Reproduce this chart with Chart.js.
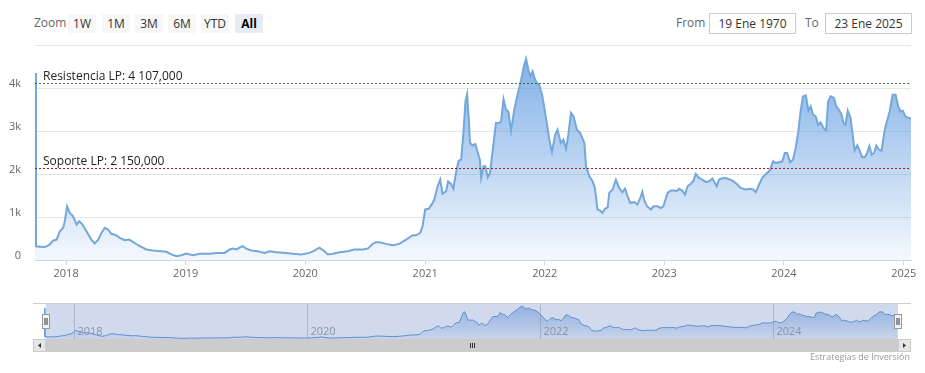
<!DOCTYPE html>
<html><head><meta charset="utf-8">
<script src="https://cdn.jsdelivr.net/npm/chart.js@4.4.1/dist/chart.umd.min.js"></script>
<style>
body{margin:0;background:#fff;font-family:"Open Sans",sans-serif;}
#wrap{position:relative;width:925px;height:373px;overflow:hidden;background:#fff;}
canvas{position:absolute;left:0;}
.t{position:absolute;font-size:12px;color:#666;line-height:18px;}
.btn{position:absolute;top:14px;height:19px;width:28px;background:#f7f7f7;color:#333;font-size:12px;line-height:19px;text-align:center;}
.sel{background:#e6ebf5;color:#000;font-weight:bold;}
.box{position:absolute;top:13px;height:19px;width:85px;border:1px solid #ccc;font-size:12px;line-height:19px;text-align:center;color:#333;}
.credit{position:absolute;right:15px;top:350px;font-size:9px;color:#999;}
</style></head>
<body>
<div id="wrap">
  <div class="t" style="left:34px;top:14px;">Zoom</div>
  <div class="btn" style="left:68px;">1W</div>
  <div class="btn" style="left:102px;">1M</div>
  <div class="btn" style="left:135px;">3M</div>
  <div class="btn" style="left:168px;">6M</div>
  <div class="btn" style="left:201px;">YTD</div>
  <div class="btn sel" style="left:235px;">All</div>
  <div class="t" style="left:676px;top:14px;">From</div>
  <div class="box" style="left:709px;">19 Ene 1970</div>
  <div class="t" style="left:805px;top:14px;">To</div>
  <div class="box" style="left:825px;">23 Ene 2025</div>
  <canvas id="main" width="925" height="290" style="top:0"></canvas>
  <canvas id="nav" width="925" height="83" style="top:290px"></canvas>
  <div class="credit">Estrategias de Inversión</div>
</div>
<script>
const dates = [
"2017-09-28","2017-10-01","2017-10-13","2017-10-28","2017-11-12","2017-11-22","2017-12-03","2017-12-13","2017-12-23","2017-12-28",
"2018-01-04","2018-01-12","2018-01-22","2018-02-02","2018-02-10","2018-02-20","2018-03-04","2018-03-19","2018-03-29","2018-04-09",
"2018-04-19","2018-04-29","2018-05-09","2018-05-19","2018-06-02","2018-06-14","2018-06-29","2018-07-12","2018-07-24","2018-08-14",
"2018-09-03","2018-09-23","2018-10-19","2018-11-03","2018-11-18","2018-12-04","2018-12-19","2019-01-03","2019-01-23","2019-02-13",
"2019-03-15","2019-04-05","2019-04-30","2019-05-15","2019-05-25","2019-06-05","2019-06-23","2019-07-05","2019-07-20","2019-08-09",
"2019-08-30","2019-09-14","2019-10-04","2019-11-04","2019-11-24","2019-12-20","2020-01-14","2020-01-29","2020-02-13","2020-02-26",
"2020-03-10","2020-03-25","2020-04-14","2020-05-10","2020-05-30","2020-06-25","2020-07-10","2020-07-25","2020-08-04","2020-08-14",
"2020-09-04","2020-09-24","2020-10-14","2020-11-04","2020-11-24","2020-12-04","2020-12-17","2020-12-24","2021-01-01","2021-01-12",
"2021-01-22","2021-01-29","2021-02-08","2021-02-16","2021-02-23","2021-03-06","2021-03-12","2021-03-21","2021-03-28","2021-04-05",
"2021-04-13","2021-04-21","2021-04-28","2021-05-04","2021-05-09","2021-05-14","2021-05-18","2021-05-26","2021-06-03","2021-06-11",
"2021-06-17","2021-06-21","2021-06-28","2021-07-04","2021-07-11","2021-07-18","2021-07-26","2021-08-05","2021-08-15","2021-08-21",
"2021-08-28","2021-09-05","2021-09-12","2021-09-20","2021-09-30","2021-10-10","2021-10-21","2021-10-28","2021-11-05","2021-11-12",
"2021-11-18","2021-11-25","2021-12-01","2021-12-08","2021-12-15","2021-12-24","2022-01-05","2022-01-15","2022-01-23","2022-02-02",
"2022-02-09","2022-02-19","2022-02-27","2022-03-07","2022-03-14","2022-03-22","2022-03-30","2022-04-09","2022-04-19","2022-05-02",
"2022-05-07","2022-05-17","2022-05-27","2022-06-03","2022-06-11","2022-06-19","2022-06-26","2022-07-04","2022-07-12","2022-07-17",
"2022-07-27","2022-08-06","2022-08-16","2022-08-26","2022-09-03","2022-09-11","2022-09-19","2022-10-01","2022-10-11","2022-10-19",
"2022-10-26","2022-10-31","2022-11-09","2022-11-21","2022-11-29","2022-12-11","2022-12-21","2022-12-29","2023-01-11","2023-01-21",
"2023-01-31","2023-02-08","2023-02-15","2023-02-25","2023-03-05","2023-03-13","2023-03-23","2023-03-31","2023-04-07","2023-04-17",
"2023-04-27","2023-05-08","2023-05-18","2023-05-28","2023-06-10","2023-06-17","2023-07-02","2023-07-12","2023-07-28","2023-08-12",
"2023-08-22","2023-09-06","2023-09-19","2023-09-29","2023-10-07","2023-10-15","2023-10-27","2023-11-07","2023-11-19","2023-11-29",
"2023-12-07","2023-12-17","2023-12-27","2024-01-04","2024-01-11","2024-01-20","2024-01-29","2024-02-06","2024-02-14","2024-02-21",
"2024-02-28","2024-03-08","2024-03-16","2024-03-23","2024-03-30","2024-04-07","2024-04-15","2024-04-22","2024-05-02","2024-05-09",
"2024-05-15","2024-05-23","2024-06-02","2024-06-09","2024-06-17","2024-06-25","2024-07-02","2024-07-07","2024-07-14","2024-07-22",
"2024-07-27","2024-08-04","2024-08-12","2024-08-19","2024-08-27","2024-09-04","2024-09-11","2024-09-18","2024-09-25","2024-10-02",
"2024-10-09","2024-10-17","2024-10-25","2024-11-04","2024-11-11","2024-11-19","2024-11-28","2024-12-07","2024-12-15","2024-12-22",
"2024-12-29","2025-01-06","2025-01-16","2025-01-23"
];
const values = [
4350,320,310,300,360,450,475,670,750,900,
1250,1095,1020,825,900,825,670,475,385,475,
630,750,710,610,580,515,460,475,420,320,
245,220,205,190,130,90,110,150,110,145,
145,165,165,245,265,245,320,265,220,205,
165,205,180,165,145,130,165,220,285,220,
130,145,180,205,245,245,265,375,415,415,
375,345,375,475,575,575,630,785,1175,1190,
1305,1405,1715,1870,1540,1600,1830,1770,1660,2025,
2310,2335,2990,3690,3860,3300,2720,2665,2700,2490,
2335,1910,2180,2180,1925,2025,2530,3185,3185,3225,
3745,3495,3455,3010,3495,3845,4195,4465,4680,4425,
4270,4385,4230,4115,4075,3845,3300,2800,2515,2915,
3030,2720,2800,2590,2915,3420,3340,3030,2955,2720,
2180,1945,1830,1675,1175,1150,1095,1190,1225,1560,
1640,1870,1675,1575,1660,1480,1330,1345,1290,1430,
1585,1405,1250,1175,1250,1250,1210,1250,1560,1615,
1615,1600,1655,1615,1520,1715,1770,1845,2000,1910,
1870,1815,1830,1895,1715,1870,1910,1895,1845,1755,
1675,1640,1655,1640,1575,1715,1910,2000,2080,2295,
2255,2275,2295,2490,2490,2275,2335,2605,2990,3455,
3805,3830,3470,3570,3380,3340,3145,3200,3055,3010,
3690,3805,3770,3570,3495,3380,3165,3145,3470,3320,
3030,2545,2665,2545,2390,2390,2490,2645,2450,2490,
2660,2565,2545,3030,3240,3455,3845,3845,3570,3455,
3470,3340,3300,3290
];
const yTicks = [0, 1000, 2000, 3000, 4000, 5000];
const yearTicks = [2018, 2019, 2020, 2021, 2022, 2023, 2024, 2025];
const navYearTicks = [2018, 2020, 2022, 2024];
const resistanceValue = 4107;
const resistanceLabel = "Resistencia LP: 4 107,000";
const supportValue = 2150;
const supportLabel = "Soporte LP: 2 150,000";

const toMs = s => { const p = s.split('-').map(Number); return Date.UTC(p[0], p[1]-1, p[2]); };
const points = dates.map((d, i) => ({x: toMs(d), y: values[i]}));
const xMin = toMs(dates[0]), xMax = toMs(dates[dates.length-1]);
const FONT = '"Open Sans", sans-serif';

function grad(ctx, top, bottom) {
  const ch = ctx.chart; const ca = ch.chartArea; if (!ca) return null;
  const g = ch.ctx.createLinearGradient(0, ca.top, 0, ca.bottom);
  g.addColorStop(0, top); g.addColorStop(1, bottom); return g;
}

const plotLines = {
  id: 'plotLines',
  afterDatasetsDraw(chart) {
    const {ctx, chartArea: ca, scales: {y}} = chart;
    const lines = [[resistanceValue, resistanceLabel, '#2e7d32'], [supportValue, supportLabel, '#b01c1c']];
    ctx.save();
    for (const [v, lab, col] of lines) {
      const py = Math.round(y.getPixelForValue(v)) + 0.5;
      ctx.strokeStyle = col; ctx.lineWidth = 1; ctx.setLineDash([2, 2]);
      ctx.beginPath(); ctx.moveTo(ca.left, py); ctx.lineTo(ca.right, py); ctx.stroke();
      ctx.setLineDash([]);
      ctx.fillStyle = '#222'; ctx.font = '12px ' + FONT; ctx.textBaseline = 'alphabetic'; ctx.textAlign = 'left';
      ctx.fillText(lab, ca.left + 8, py - 3.5);
    }
    ctx.restore();
  }
};

new Chart(document.getElementById('main'), {
  type: 'line',
  data: { datasets: [{
    data: points,
    borderColor: '#75a7db', borderWidth: 2, pointRadius: 0, tension: 0,
    fill: 'origin',
    backgroundColor: c => grad(c, 'rgba(70,140,220,0.72)', 'rgba(70,140,220,0.06)')
  }]},
  options: {
    responsive: false, animation: false, events: [],
    layout: { padding: { left: 0, right: 14, top: 45, bottom: 10 } },
    plugins: { legend: { display: false }, tooltip: { enabled: false } },
    scales: {
      x: {
        type: 'linear', min: xMin, max: xMax,
        afterBuildTicks: s => { s.ticks = yearTicks.map(yr => ({ value: Date.UTC(yr, 0, 1) })); },
        afterFit: s => { s.height = 20; },
        grid: { drawOnChartArea: false, drawTicks: true, tickLength: 5, color: '#ccd6eb' },
        border: { color: '#ccd6eb' },
        ticks: { autoSkip: false, maxRotation: 0, padding: 2, color: '#666', font: { size: 11, family: FONT },
                 callback: v => String(new Date(v).getUTCFullYear()) }
      },
      y: {
        min: 0, max: 5000,
        afterBuildTicks: s => { s.ticks = yTicks.map(v => ({ value: v })); },
        afterFit: s => { s.width = 35; },
        grid: { color: '#e6e6e6', drawTicks: false },
        border: { display: false },
        ticks: { padding: 14, labelOffset: -4, color: '#666', font: { size: 11, family: FONT },
                 callback: v => v === 0 ? '0' : (v === 5000 ? '' : (v / 1000) + 'k') }
      }
    }
  },
  plugins: [plotLines]
});

const navDecor = {
  id: 'navDecor',
  beforeDatasetsDraw(chart) {
    const {ctx, chartArea: ca} = chart;
    ctx.save();
    ctx.strokeStyle = '#cccccc'; ctx.lineWidth = 1;
    ctx.beginPath(); ctx.moveTo(33, ca.top + 0.5); ctx.lineTo(911, ca.top + 0.5); ctx.stroke();
    ctx.restore();
  },
  afterDatasetsDraw(chart) {
    const {ctx, chartArea: ca, scales: {x}} = chart;
    const L = 46, R = 898;
    ctx.save();
    ctx.fillStyle = 'rgba(102,133,194,0.3)';
    ctx.fillRect(L, ca.top + 1, R - L, ca.bottom - ca.top - 1);
    ctx.font = '11px ' + FONT; ctx.textBaseline = 'middle'; ctx.textAlign = 'left';
    for (const yr of navYearTicks) {
      const px = Math.round(x.getPixelForValue(Date.UTC(yr, 0, 1))) + 0.5;
      ctx.strokeStyle = 'rgba(140,150,175,0.55)';
      ctx.beginPath(); ctx.moveTo(px, ca.top + 1); ctx.lineTo(px, ca.bottom); ctx.stroke();
      ctx.fillStyle = '#8a93a8';
      ctx.fillText(String(yr), px + 3, ca.bottom - 7);
    }
    const sy = ca.bottom, sh = 13;
    ctx.fillStyle = '#f2f2f2'; ctx.fillRect(33, sy, 878, sh);
    ctx.fillStyle = '#cccccc'; ctx.fillRect(L, sy, R - L, sh);
    ctx.fillStyle = '#e6e6e6'; ctx.strokeStyle = '#cccccc';
    ctx.fillRect(33, sy, 13, sh); ctx.strokeRect(33.5, sy + 0.5, 12, sh - 1);
    ctx.fillRect(R, sy, 13, sh); ctx.strokeRect(R + 0.5, sy + 0.5, 12, sh - 1);
    ctx.fillStyle = '#333';
    ctx.beginPath(); ctx.moveTo(41, sy + 4); ctx.lineTo(41, sy + 9); ctx.lineTo(38, sy + 6.5); ctx.closePath(); ctx.fill();
    ctx.beginPath(); ctx.moveTo(R + 5, sy + 4); ctx.lineTo(R + 5, sy + 9); ctx.lineTo(R + 8, sy + 6.5); ctx.closePath(); ctx.fill();
    const cx = Math.round((L + R) / 2);
    ctx.strokeStyle = '#333';
    for (const dx of [-2, 0, 2]) { ctx.beginPath(); ctx.moveTo(cx + dx + 0.5, sy + 4); ctx.lineTo(cx + dx + 0.5, sy + 9); ctx.stroke(); }
    for (const hx of [L, R]) {
      ctx.fillStyle = '#f2f2f2'; ctx.strokeStyle = '#999';
      ctx.fillRect(hx - 3.5, ca.top + 11, 7, 14); ctx.strokeRect(hx - 3.5, ca.top + 11.5, 7, 14);
      ctx.strokeStyle = '#333';
      ctx.beginPath(); ctx.moveTo(hx - 1, ca.top + 15); ctx.lineTo(hx - 1, ca.top + 22);
      ctx.moveTo(hx + 1, ca.top + 15); ctx.lineTo(hx + 1, ca.top + 22); ctx.stroke();
    }
    ctx.restore();
  }
};

new Chart(document.getElementById('nav'), {
  type: 'line',
  data: { datasets: [{
    data: points,
    borderColor: '#5a95d8', borderWidth: 1, pointRadius: 0, tension: 0,
    fill: 'origin',
    backgroundColor: c => grad(c, 'rgba(80,140,215,0.55)', 'rgba(80,140,215,0.08)')
  }]},
  options: {
    responsive: false, animation: false, events: [],
    layout: { padding: { left: 44, right: 28, top: 13, bottom: 34 } },
    plugins: { legend: { display: false }, tooltip: { enabled: false } },
    scales: {
      x: { type: 'linear', min: xMin, max: xMax, display: false },
      y: { min: 0, max: 5100, display: false }
    }
  },
  plugins: [navDecor]
});
</script>
</body></html>
